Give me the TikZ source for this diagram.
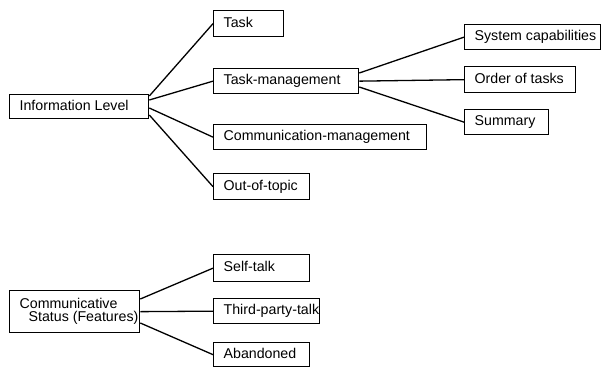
\documentclass[tikz,border=0pt]{standalone}
\usepackage{fontspec}
\setmainfont{Liberation Sans}
\usetikzlibrary{calc}
\tikzset{
  box/.style={draw, line width=1.3pt, rectangle, anchor=north west, inner xsep=10pt, inner ysep=0pt,
    align=left, font=\fontsize{14.2}{12.5}\selectfont},
  onel/.style={text height=9.5pt, text depth=2pt},
  conn/.style={line width=1.3pt}
}
\newcommand{\bx}[6]{% name, left, top, right, bottom, text
  \pgfmathsetmacro{\bw}{#4-#2}\pgfmathsetmacro{\bh}{#5-#3}\pgfmathsetmacro{\tw}{#4-#2-20}
  \node[box, onel, minimum width=\bw pt, minimum height=\bh pt] (#1) at (#2,#3) {\makebox[\tw pt][l]{#6}};}
\begin{document}
\begin{tikzpicture}[x=1pt,y=-1pt]
\useasboundingbox (0,0) rectangle (601,367);
\bx{info}{9}{94}{148}{118}{Information Level}
\bx{task}{213}{10}{283}{36}{Task}
\bx{tm}{213}{68}{358}{93}{Task-management}
\bx{comm}{213}{124}{426}{149}{Communication-management}
\bx{oot}{213}{173}{309}{199}{Out-of-topic}
\bx{sc}{464}{24}{600}{49}{System capabilities}
\bx{ord}{464}{66}{575}{92}{Order of tasks}
\bx{sum}{464}{109}{548}{134}{Summary}
\node[box, minimum width=130pt, minimum height=42pt] (cs) at (9,290)
  {\raisebox{2.5pt}{\parbox[c]{110pt}{\fontsize{14.2}{12.8}\selectfont\mbox{Communicative}\\\hspace*{9pt}\mbox{Status (Features)}}}};
\bx{self}{213}{254}{309}{281}{Self-talk}
\bx{third}{213}{298}{319}{323}{Third-party-talk}
\bx{aband}{213}{342}{309}{366}{Abandoned}
\draw[conn] ($(info.north east)+(0,2)$) -- (task.west);
\draw[conn] ($(info.north east)+(0,6)$) -- (tm.west);
\draw[conn] ($(info.north east)+(0,14)$) -- (comm.west);
\draw[conn] ($(info.north east)+(0,21)$) -- (oot.west);
\draw[conn] ($(tm.north east)+(0,5)$) -- (sc.west);
\draw[conn] (tm.east) -- (ord.west);
\draw[conn] ($(tm.north east)+(0,19)$) -- (sum.west);
\draw[conn] ($(cs.north east)+(0,9)$) -- (self.west);
\draw[conn] (cs.east) -- (third.west);
\draw[conn] ($(cs.north east)+(0,33)$) -- (aband.west);
\end{tikzpicture}
\end{document}
